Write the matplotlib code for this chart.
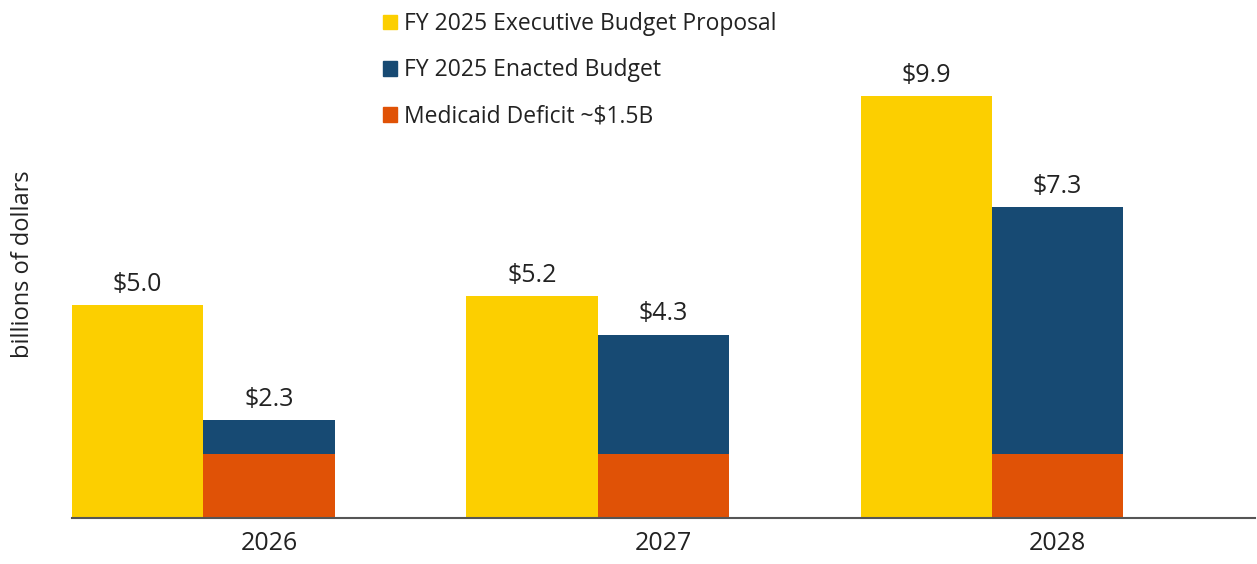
import matplotlib
matplotlib.use("Agg")
import matplotlib.pyplot as plt
from matplotlib.patches import Patch
import numpy as np

years = ["2026", "2027", "2028"]
proposal = [5.0, 5.2, 9.9]
enacted = [2.3, 4.3, 7.3]
medicaid = [1.5, 1.5, 1.5]
legend_labels = ["FY 2025 Executive Budget Proposal", "FY 2025 Enacted Budget", "Medicaid Deficit ~$1.5B"]

YELLOW = "#FCCF00"
BLUE = "#174A73"
ORANGE = "#E05206"
TEXT = "#222222"

plt.rcParams['font.family'] = ['Open Sans', 'DejaVu Sans']

fig = plt.figure(figsize=(12.57, 5.64), dpi=100)
ax = fig.add_axes([72/1257, 46/564, (1255-72)/1257, 0.9124 - 46/564])

x = np.arange(len(years))
w = 0.333
ax.bar(x - w/2, proposal, width=w, color=YELLOW, linewidth=0)
ax.bar(x + w/2, medicaid, width=w, color=ORANGE, linewidth=0)
ax.bar(x + w/2, np.array(enacted) - np.array(medicaid), width=w, bottom=medicaid, color=BLUE, linewidth=0)

for xi, v in zip(x, proposal):
    ax.annotate(f"${v:.1f}", (xi - w/2, v), xytext=(0, 6), textcoords="offset points",
                ha="center", va="bottom", fontsize=18, color=TEXT)
for xi, v in zip(x, enacted):
    ax.annotate(f"${v:.1f}", (xi + w/2, v), xytext=(0, 6), textcoords="offset points",
                ha="center", va="bottom", fontsize=18, color=TEXT)

ax.set_xlim(-0.333, 2.667)
ax.set_ylim(0, 11)
ax.set_xticks(x + w/2)
ax.set_xticklabels(years, fontsize=18, color=TEXT)
ax.tick_params(axis='x', length=0, pad=9)
ax.set_yticks([])
for s in ["top", "right", "left"]:
    ax.spines[s].set_visible(False)
ax.spines["bottom"].set_color("#555555")
ax.spines["bottom"].set_linewidth(1.5)

fig.text(23/1257, 1 - 264/564, "billions of dollars", rotation=90, ha="center", va="center",
         fontsize=17, color=TEXT)

handles = [Patch(color=c) for c in (YELLOW, BLUE, ORANGE)]
fig.legend(handles, legend_labels, loc="upper left", bbox_to_anchor=(374/1257, 1 - 3/564),
           frameon=False, fontsize=16.5, handlelength=0.6, handleheight=0.6, handletextpad=0.3,
           labelspacing=0.97, borderaxespad=0, labelcolor=TEXT)

fig.savefig("out.png", dpi=100)
